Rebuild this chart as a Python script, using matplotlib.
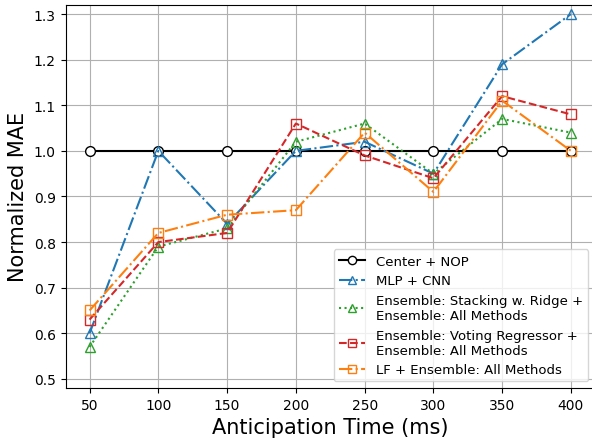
import matplotlib
matplotlib.use("Agg")
import matplotlib.pyplot as plt

times = [50, 100, 150, 200, 250, 300, 350, 400]
center_nop = [1.00, 1.00, 1.00, 1.00, 1.00, 1.00, 1.00, 1.00]
mlp_cnn = [0.60, 1.00, 0.84, 1.00, 1.02, 0.95, 1.19, 1.30]
stacking = [0.57, 0.79, 0.83, 1.02, 1.06, 0.95, 1.07, 1.04]
voting = [0.63, 0.80, 0.82, 1.06, 0.99, 0.94, 1.12, 1.08]
lf_ens = [0.65, 0.82, 0.86, 0.87, 1.04, 0.91, 1.11, 1.00]

labels = ["Center + NOP", "MLP + CNN",
          "Ensemble: Stacking w. Ridge +\nEnsemble: All Methods",
          "Ensemble: Voting Regressor +\nEnsemble: All Methods",
          "LF + Ensemble: All Methods"]

fig = plt.figure(figsize=(5.92, 4.39), dpi=100)
ax = fig.add_axes([65.5/592, 50/439, (595-65.5)/592, (433.5-50)/439])

ms = 7
ax.plot(times, center_nop, '-', color='black', marker='o', mfc='white', mec='black',
        ms=ms, lw=1.5, label=labels[0])
ax.plot(times, mlp_cnn, '-.', color='#1f77b4', marker='^', mfc='none', mec='#1f77b4',
        ms=ms, lw=1.5, label=labels[1])
ax.plot(times, stacking, ':', color='#2ca02c', marker='^', mfc='none', mec='#2ca02c',
        ms=ms, lw=1.5, label=labels[2])
ax.plot(times, voting, '--', color='#d62728', marker='s', mfc='none', mec='#d62728',
        ms=ms, lw=1.5, label=labels[3])
ax.plot(times, lf_ens, '-.', color='#ff7f0e', marker='s', mfc='none', mec='#ff7f0e',
        ms=ms, lw=1.5, label=labels[4])

ax.set_xlim(32.5, 417.5)
ax.set_ylim(0.48, 1.321)
ax.set_xticks(times)
ax.set_yticks([0.5, 0.6, 0.7, 0.8, 0.9, 1.0, 1.1, 1.2, 1.3])
ax.tick_params(labelsize=10)
ax.grid(True)
ax.set_xlabel("Anticipation Time (ms)", fontsize=15)
ax.set_ylabel("Normalized MAE", fontsize=15)
ax.legend(loc='lower right', fontsize=9.5, markerscale=0.85)

fig.savefig("out.png", dpi=100)
